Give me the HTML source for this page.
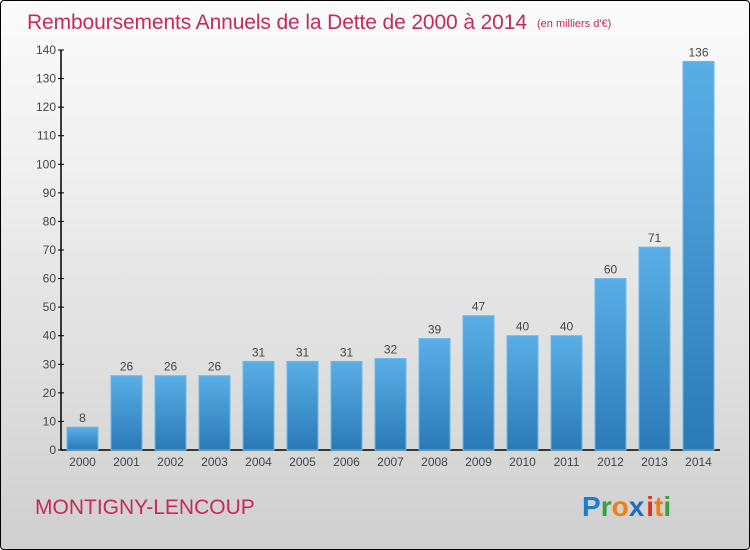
<!DOCTYPE html>
<html><head><meta charset="utf-8"><style>
body{margin:0;width:750px;height:550px;overflow:hidden;font-family:"Liberation Sans",sans-serif}
#frame{position:absolute;left:0;top:0;width:748px;height:548px;border:1px solid #000;border-radius:4px;background:linear-gradient(#fbfbfb,#f0f0f0 30%,#cfcfcf)}
</style></head><body>
<div id="frame"></div>
<svg width="750" height="550" style="position:absolute;left:0;top:0">
<defs><linearGradient id="bg" x1="0" y1="0" x2="0" y2="1"><stop offset="0" stop-color="#5aaee6"/><stop offset="1" stop-color="#2a7ab8"/></linearGradient></defs>
<text x="27" y="29" font-size="21" fill="#c8285a" textLength="500">Remboursements Annuels de la Dette de 2000 à 2014</text>
<text x="537" y="27" font-size="11" fill="#c8285a">(en milliers d'€)</text>
<g id="plot"></g>
<text x="35" y="514" font-size="21" fill="#c8285a">MONTIGNY-LENCOUP</text>
<text x="582" y="516" font-size="28" font-weight="bold"><tspan fill="#1a7fd0">P</tspan><tspan fill="#3aa040">r</tspan><tspan fill="#f08010">o</tspan><tspan fill="#1a70c0">x</tspan><tspan fill="#e03020" dx="2">i</tspan><tspan fill="#f08010">t</tspan><tspan fill="#3aa040">i</tspan></text>
</svg>
<script>
const years=["2000","2001","2002","2003","2004","2005","2006","2007","2008","2009","2010","2011","2012","2013","2014"];
const values=[8,26,26,26,31,31,31,32,39,47,40,40,60,71,136];
const yTicks=[0,10,20,30,40,50,60,70,80,90,100,110,120,130,140];
const NS="http://www.w3.org/2000/svg";
const g=document.getElementById('plot');
const y0=450,ppu=400/140;
const yS=v=>y0-v*ppu;
const xS=i=>82.5+i*44;
function mk(t,a,p){const e=document.createElementNS(NS,t);for(const k in a)e.setAttribute(k,a[k]);(p||g).appendChild(e);return e;}
let ax=mk('line',{x1:61,y1:yS(140),x2:61,y2:y0,stroke:'#000','stroke-width':1.5});


let bx=mk('line',{x1:61,y1:y0,x2:720,y2:y0,stroke:'#000','stroke-width':1.5});


yTicks.forEach(v=>{
 mk('line',{x1:58,x2:64,y1:yS(v),y2:yS(v),stroke:'#000'});
 const t=mk('text',{x:56,y:yS(v)+4,'text-anchor':'end','font-size':12,fill:'#444'});t.textContent=v;
 
 
});
years.forEach((yr,i)=>{
 const v=values[i];
 const r=mk('rect',{x:xS(i)-15.5,y:yS(v),width:31,height:v*ppu,fill:'url(#bg)',stroke:'#6ab8ec','stroke-width':1});
 
 
 const l=mk('text',{x:xS(i),y:yS(v)-5,'text-anchor':'middle','font-size':12,fill:'#444'});l.textContent=v;
 
 
 const t=mk('text',{x:xS(i),y:466,'text-anchor':'middle','font-size':12,fill:'#444'});t.textContent=yr;
 
 
});
</script>
</body></html>
